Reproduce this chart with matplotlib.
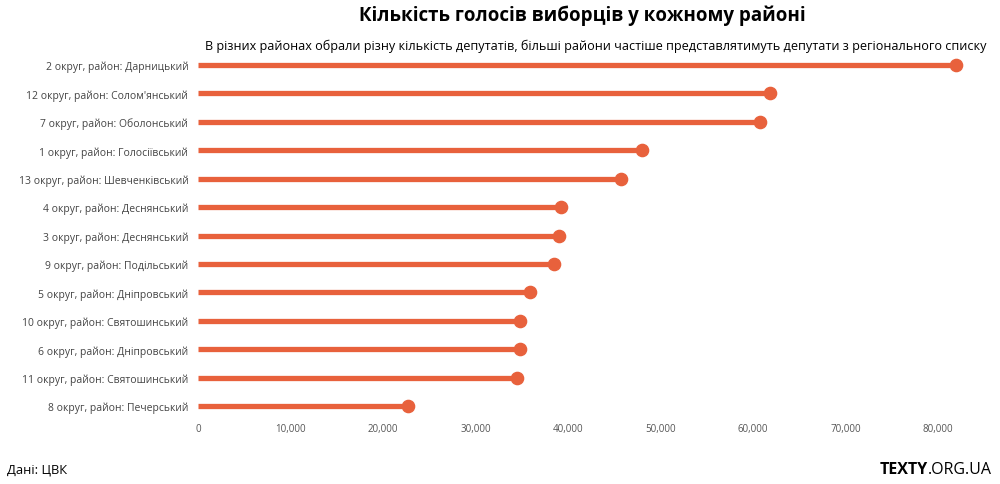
import matplotlib
matplotlib.use("Agg")
import matplotlib.pyplot as plt
from matplotlib.ticker import FuncFormatter

plt.rcParams['font.family'] = ['Open Sans', 'DejaVu Sans']

districts = [
    "2 округ, район: Дарницький",
    "12 округ, район: Солом'янський",
    "7 округ, район: Оболонський",
    "1 округ, район: Голосіївський",
    "13 округ, район: Шевченківський",
    "4 округ, район: Деснянський",
    "3 округ, район: Деснянський",
    "9 округ, район: Подільський",
    "5 округ, район: Дніпровський",
    "10 округ, район: Святошинський",
    "6 округ, район: Дніпровський",
    "11 округ, район: Святошинський",
    "8 округ, район: Печерський",
]
votes = [81950, 61850, 60750, 48000, 45750, 39250, 39050, 38500,
         35900, 34800, 34800, 34500, 22700]

color = "#E8613C"

fig = plt.figure(figsize=(10, 4.85), dpi=100)
ax = fig.add_axes([0.198, 0.143, 0.792, 0.756])

ypos = list(range(len(districts)))
ax.hlines(ypos, 0, votes, color=color, linewidth=3.8)
ax.plot(votes, ypos, "o", color=color, markersize=8.8)

ax.set_yticks(ypos)
ax.set_yticklabels(districts, fontsize=7.5, color="#444444")
ax.set_ylim(len(districts) - 0.7, -0.6)
ax.set_xlim(0, 85600)
ax.set_xticks(range(0, 80001, 10000))
ax.xaxis.set_major_formatter(FuncFormatter(lambda v, p: f"{int(v):,}"))
ax.tick_params(axis="x", labelsize=7, colors="#555555", length=0, pad=6)
ax.tick_params(axis="y", length=0, pad=7)
for s in ax.spines.values():
    s.set_visible(False)

fig.text(0.582, 0.968, "Кількість голосів виборців у кожному районі",
         ha="center", va="center", fontsize=13.5, fontweight="bold")
fig.text(0.596, 0.905,
         "В різних районах обрали різну кількість депутатів, більші райони частіше представлятимуть депутати з регіонального списку",
         ha="center", va="center", fontsize=9.05)
fig.text(0.007, 0.03, "Дані: ЦВК", ha="left", va="center", fontsize=9.3)
fig.text(0.928, 0.03, "TEXTY", ha="right", va="center", fontsize=11.5, fontweight="bold")
fig.text(0.928, 0.03, ".ORG.UA", ha="left", va="center", fontsize=11.5)

fig.savefig("out.png", dpi=100)
